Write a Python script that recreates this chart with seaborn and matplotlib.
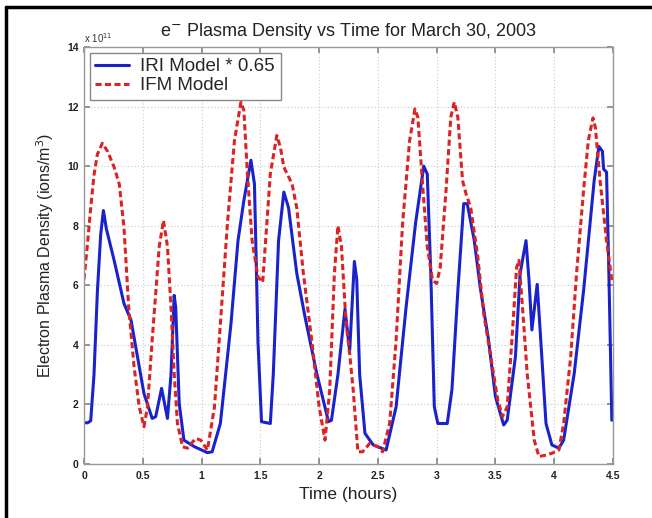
import numpy as np
import pandas as pd
import matplotlib
matplotlib.use("Agg")
import matplotlib.pyplot as plt
import seaborn as sns
from matplotlib.lines import Line2D

# ---- data (values in units of 1e11 ions/m^3) ----
iri_time = [0.0, 0.03, 0.057, 0.085, 0.114, 0.142, 0.165, 0.19, 0.256, 0.34, 0.40, 0.455,
            0.51, 0.58, 0.61, 0.66, 0.71, 0.74, 0.767, 0.78, 0.81, 0.85, 0.94, 1.05,
            1.09, 1.16, 1.25, 1.31, 1.36, 1.42, 1.45, 1.465, 1.48, 1.51, 1.585, 1.61,
            1.655, 1.70, 1.74, 1.81, 1.88, 1.98, 2.08, 2.105, 2.16, 2.22, 2.26, 2.30,
            2.32, 2.345, 2.39, 2.46, 2.57, 2.655, 2.74, 2.82, 2.89, 2.92, 2.95, 2.98,
            3.01, 3.09, 3.13, 3.18, 3.23, 3.26, 3.32, 3.37, 3.44, 3.50, 3.57, 3.60,
            3.67, 3.71, 3.76, 3.785, 3.81, 3.855, 3.88, 3.93, 3.98, 4.04, 4.08, 4.17,
            4.25, 4.34, 4.38, 4.41, 4.42, 4.445, 4.465, 4.49]
iri_density = [1.39, 1.38, 1.45, 3.00, 5.80, 7.70, 8.51, 7.90, 6.84, 5.39, 4.83, 3.60,
               2.37, 1.53, 1.59, 2.54, 1.53, 3.00, 5.66, 5.27, 2.03, 0.80, 0.58, 0.38,
               0.41, 1.36, 4.70, 7.50, 8.85, 10.2, 9.40, 6.80, 4.10, 1.42, 1.36, 3.00,
               7.50, 9.13, 8.60, 6.40, 4.94, 3.04, 1.42, 1.47, 3.00, 5.20, 3.80, 6.80,
               6.20, 3.00, 1.03, 0.64, 0.47, 1.92, 5.27, 8.07, 10.0, 9.74, 6.40, 1.92,
               1.36, 1.36, 2.50, 5.80, 8.74, 8.74, 7.50, 5.94, 4.20, 2.26, 1.31, 1.47,
               3.60, 6.40, 7.50, 6.20, 4.50, 6.03, 4.50, 1.36, 0.64, 0.53, 0.80, 3.04,
               5.83, 9.52, 10.66, 10.5, 9.90, 9.80, 6.40, 1.47]

ifm_time = [0.0, 0.03, 0.057, 0.085, 0.114, 0.156, 0.20, 0.256, 0.30, 0.34, 0.38, 0.426,
            0.47, 0.51, 0.54, 0.58, 0.64, 0.676, 0.71, 0.74, 0.767, 0.795, 0.838, 0.88,
            0.95, 0.994, 1.05, 1.11, 1.16, 1.22, 1.28, 1.335, 1.36, 1.39, 1.43, 1.48,
            1.52, 1.585, 1.64, 1.67, 1.70, 1.77, 1.81, 1.866, 1.937, 2.0, 2.05, 2.09,
            2.13, 2.16, 2.19, 2.23, 2.26, 2.29, 2.33, 2.37, 2.43, 2.50, 2.54, 2.60,
            2.655, 2.71, 2.77, 2.815, 2.84, 2.88, 2.92, 2.965, 3.0, 3.03, 3.08, 3.12,
            3.15, 3.18, 3.22, 3.25, 3.29, 3.35, 3.40, 3.46, 3.52, 3.56, 3.60, 3.64,
            3.68, 3.70, 3.73, 3.77, 3.83, 3.87, 3.93, 3.98, 4.04, 4.08, 4.14, 4.19,
            4.25, 4.29, 4.33, 4.35, 4.39, 4.445, 4.49, 4.5]
ifm_density = [6.2, 7.4, 8.6, 9.7, 10.4, 10.77, 10.5, 9.97, 9.40, 7.95, 5.27, 3.26,
               1.92, 1.25, 1.92, 4.16, 7.30, 8.18, 7.30, 5.27, 3.04, 1.36, 0.58, 0.53,
               0.86, 0.80, 0.47, 1.92, 4.70, 8.07, 10.86, 12.15, 11.87, 9.74, 7.50, 6.28,
               6.10, 9.74, 11.03, 10.64, 9.97, 9.40, 8.60, 6.40, 4.16, 1.92, 0.80, 2.48,
               6.40, 8.00, 7.30, 4.70, 3.70, 2.48, 0.41, 0.41, 0.69, 0.58, 0.41, 1.36,
               4.16, 8.07, 10.86, 11.92, 11.64, 9.40, 7.30, 6.17, 6.06, 6.60, 9.20, 11.64,
               12.15, 11.64, 9.52, 9.07, 8.60, 6.95, 5.05, 3.60, 2.15, 1.59, 1.92, 4.16,
               6.60, 6.84, 5.27, 3.04, 0.80, 0.25, 0.30, 0.36, 0.47, 1.36, 3.60, 6.40,
               9.20, 10.86, 11.62, 11.30, 9.52, 7.50, 6.17, 6.10]

series_labels = ["IRI Model * 0.65", "IFM Model"]
x_ticks = [0, 0.5, 1, 1.5, 2, 2.5, 3, 3.5, 4, 4.5]
x_tick_labels = ["0", "0.5", "1", "1.5", "2", "2.5", "3", "3.5", "4", "4.5"]
y_ticks = [0, 2, 4, 6, 8, 10, 12, 14]

sns.set_theme(style="white")
plt.rcParams['font.family'] = ['Liberation Sans', 'DejaVu Sans']

fig = plt.figure(figsize=(6.52, 5.18), dpi=100)
ax = fig.add_axes([84/652, 1-464/518, (613-84)/652, (464-47)/518])

iri_df = pd.DataFrame({"t": iri_time, "d": iri_density})
ifm_df = pd.DataFrame({"t": ifm_time, "d": ifm_density})
sns.lineplot(data=iri_df, x="t", y="d", ax=ax, color="#1a22cc", lw=2.2,
             label=series_labels[0], sort=False)
sns.lineplot(data=ifm_df, x="t", y="d", ax=ax, color="#dd2222", lw=2.2,
             linestyle=(0, (2.0, 1.1)), label=series_labels[1], sort=False)

ax.set_xlim(0, 4.5)
ax.set_ylim(0, 14)
ax.set_xticks(x_ticks)
ax.set_xticklabels(x_tick_labels)
ax.set_yticks(y_ticks)
ax.grid(True, color="#c8c8c8", linestyle=(0, (1, 2)), lw=0.8)
ax.tick_params(direction="in", length=4, color="#888888", labelsize=7.5,
               labelcolor="#222222", top=True, right=True, bottom=True, left=True)
ax.tick_params(axis="x", pad=5)
ax.tick_params(axis="y", pad=4)
for lbl in ax.get_xticklabels() + ax.get_yticklabels():
    lbl.set_fontweight("bold")
for s in ax.spines.values():
    s.set_color("#999999")
    s.set_linewidth(1.0)

ax.set_xlabel("Time (hours)", fontsize=12.5, color="#222222", labelpad=4)
ax.set_ylabel("Electron Plasma Density (ions/m$^3$)", fontsize=11.5, color="#222222", labelpad=8)
ax.set_title("e$^{-}$ Plasma Density vs Time for March 30, 2003", fontsize=13,
             color="#222222", pad=8)
ax.text(0.0, 1.005, r"x 10$^{11}$", transform=ax.transAxes, fontsize=7,
        color="#333333", ha="left", va="bottom")

leg = ax.legend(loc="upper left", fontsize=13.5, frameon=True, fancybox=False,
                edgecolor="#888888", framealpha=1, borderaxespad=0.3,
                handlelength=1.8, borderpad=0.3, labelspacing=0.1, handletextpad=0.6)
leg.get_frame().set_linewidth(1.0)

# outer frame lines (top and left)
fig.add_artist(Line2D([6/652, 1.0], [1-7/518, 1-7/518], transform=fig.transFigure,
                      color="black", lw=2.5))
fig.add_artist(Line2D([6/652, 6/652], [0.0, 1-7/518], transform=fig.transFigure,
                      color="black", lw=2.5))

fig.savefig("out.png", dpi=100)
